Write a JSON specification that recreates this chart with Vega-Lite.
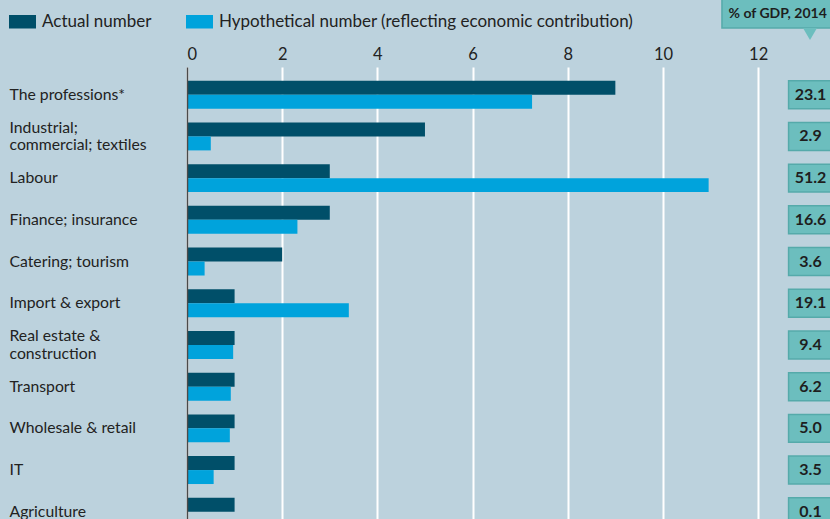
{
  "$schema": "https://vega.github.io/schema/vega-lite/v6.json",
  "autosize": {"type": "none"},
  "padding": {"left": 187, "top": 67, "right": 0, "bottom": 0},
  "width": 643,
  "height": 472.5,
  "background": "#bcd2dd",
  "config": {
    "view": {"stroke": null},
    "font": "Lato",
    "axis": {"labelFont": "Lato"},
    "legend": {"labelFont": "Lato"}
  },
  "datasets": {
    "sectors": [
      {"sector": "The professions*", "Actual number": 9, "Hypothetical number (reflecting economic contribution)": 7.25, "gdp": 23.1},
      {"sector": "Industrial;|commercial; textiles", "Actual number": 5, "Hypothetical number (reflecting economic contribution)": 0.5, "gdp": 2.9},
      {"sector": "Labour", "Actual number": 3, "Hypothetical number (reflecting economic contribution)": 10.96, "gdp": 51.2},
      {"sector": "Finance; insurance", "Actual number": 3, "Hypothetical number (reflecting economic contribution)": 2.32, "gdp": 16.6},
      {"sector": "Catering; tourism", "Actual number": 2, "Hypothetical number (reflecting economic contribution)": 0.37, "gdp": 3.6},
      {"sector": "Import & export", "Actual number": 1, "Hypothetical number (reflecting economic contribution)": 3.4, "gdp": 19.1},
      {"sector": "Real estate &|construction", "Actual number": 1, "Hypothetical number (reflecting economic contribution)": 0.97, "gdp": 9.4},
      {"sector": "Transport", "Actual number": 1, "Hypothetical number (reflecting economic contribution)": 0.92, "gdp": 6.2},
      {"sector": "Wholesale & retail", "Actual number": 1, "Hypothetical number (reflecting economic contribution)": 0.9, "gdp": 5.0},
      {"sector": "IT", "Actual number": 1, "Hypothetical number (reflecting economic contribution)": 0.56, "gdp": 3.5},
      {"sector": "Agriculture", "Actual number": 1, "Hypothetical number (reflecting economic contribution)": 0.02, "gdp": 0.1}
    ],
    "header": [{"label": "% of GDP, 2014"}]
  },
  "layer": [
    {
      "data": {"name": "sectors"},
      "encoding": {
        "y": {
          "field": "sector",
          "type": "nominal",
          "sort": null,
          "scale": {"paddingInner": 0.33, "paddingOuter": 0.33},
          "axis": {
            "title": null,
            "orient": "left",
            "labelAlign": "left",
            "labelBaseline": "middle",
            "labelPadding": 178,
            "labelOffset": {"condition": {"test": "indexof(datum.value, '|') >= 0", "value": -8.5}, "value": 0},
            "ticks": false,
            "tickSize": 0,
            "domain": true,
            "domainColor": "#4a4a4a",
            "domainWidth": 1.5,
            "labelFontSize": 15.75,
            "labelColor": "#222222",
            "labelLineHeight": 17.5,
            "labelLimit": 300,
            "labelExpr": "split(datum.label, '|')",
            "zindex": 1
          }
        }
      },
      "layer": [
        {
          "transform": [
            {"fold": ["Actual number", "Hypothetical number (reflecting economic contribution)"], "as": ["series", "value"]}
          ],
          "mark": {"type": "bar"},
          "encoding": {
            "x": {
              "field": "value",
              "type": "quantitative",
              "scale": {"domain": [0, 13.51], "nice": false},
              "axis": {
                "title": null,
                "orient": "top",
                "values": [0, 2, 4, 6, 8, 10, 12],
                "grid": true,
                "gridColor": "#ffffff",
                "gridWidth": 2,
                "domain": false,
                "ticks": false,
                "tickSize": 0,
                "labelPadding": 5,
                "labelFontSize": 16.5,
                "labelColor": "#222222"
              }
            },
            "yOffset": {
              "field": "series",
              "type": "nominal",
              "sort": ["Actual number", "Hypothetical number (reflecting economic contribution)"],
              "scale": {"paddingInner": 0, "paddingOuter": 0}
            },
            "color": {
              "field": "series",
              "type": "nominal",
              "scale": {
                "domain": ["Actual number", "Hypothetical number (reflecting economic contribution)"],
                "range": ["#004f69", "#00a3dc"]
              },
              "legend": {
                "orient": "none",
                "legendX": -178,
                "legendY": -59,
                "direction": "horizontal",
                "title": null,
                "symbolType": "M-1,-0.5H1V0.5H-1Z",
                "symbolSize": 729,
                "symbolStrokeWidth": 0,
                "labelFontSize": 17,
                "labelColor": "#222222",
                "labelOffset": 6,
                "labelLimit": 500,
                "columnPadding": 34
              }
            }
          }
        },
        {
          "mark": {"type": "rect", "fill": "#6cbebe", "stroke": "#55aaaa", "strokeWidth": 1.5},
          "encoding": {
            "x": {"datum": 12.64, "type": "quantitative"},
            "x2": {"datum": 13.7}
          }
        },
        {
          "mark": {"type": "text", "fontSize": 16, "fontWeight": "bold", "color": "#1e1e1e", "align": "center", "baseline": "middle"},
          "encoding": {
            "x": {"datum": 13.1, "type": "quantitative"},
            "text": {"field": "gdp", "type": "quantitative", "format": ".1f"}
          }
        }
      ]
    },
    {
      "data": {"name": "header"},
      "layer": [
        {
          "mark": {"type": "rect", "fill": "#6cbebe", "stroke": "#55aaaa", "strokeWidth": 1.5},
          "encoding": {
            "x": {"datum": 11.24, "type": "quantitative"},
            "x2": {"datum": 13.7},
            "y": {"datum": -1.75, "type": "quantitative", "scale": {"domain": [0, 11.33], "reverse": true, "nice": false, "zero": false}, "axis": null},
            "y2": {"datum": -0.935}
          }
        },
        {
          "mark": {"type": "point", "shape": "M-1,-0.85L1,-0.85L0,0.85Z", "filled": true, "color": "#6cbebe", "size": 196, "opacity": 1},
          "encoding": {
            "x": {"datum": 13.09, "type": "quantitative"},
            "y": {"datum": -0.79, "type": "quantitative", "scale": {"domain": [0, 11.33], "reverse": true, "nice": false, "zero": false}, "axis": null}
          }
        },
        {
          "mark": {"type": "text", "fontSize": 14, "fontWeight": "bold", "color": "#1e1e1e", "align": "center", "baseline": "middle"},
          "encoding": {
            "x": {"datum": 12.41, "type": "quantitative"},
            "y": {"datum": -1.27, "type": "quantitative", "scale": {"domain": [0, 11.33], "reverse": true, "nice": false, "zero": false}, "axis": null},
            "text": {"field": "label"}
          }
        }
      ]
    }
  ],
  "resolve": {"scale": {"y": "independent"}, "axis": {"y": "independent"}}
}
